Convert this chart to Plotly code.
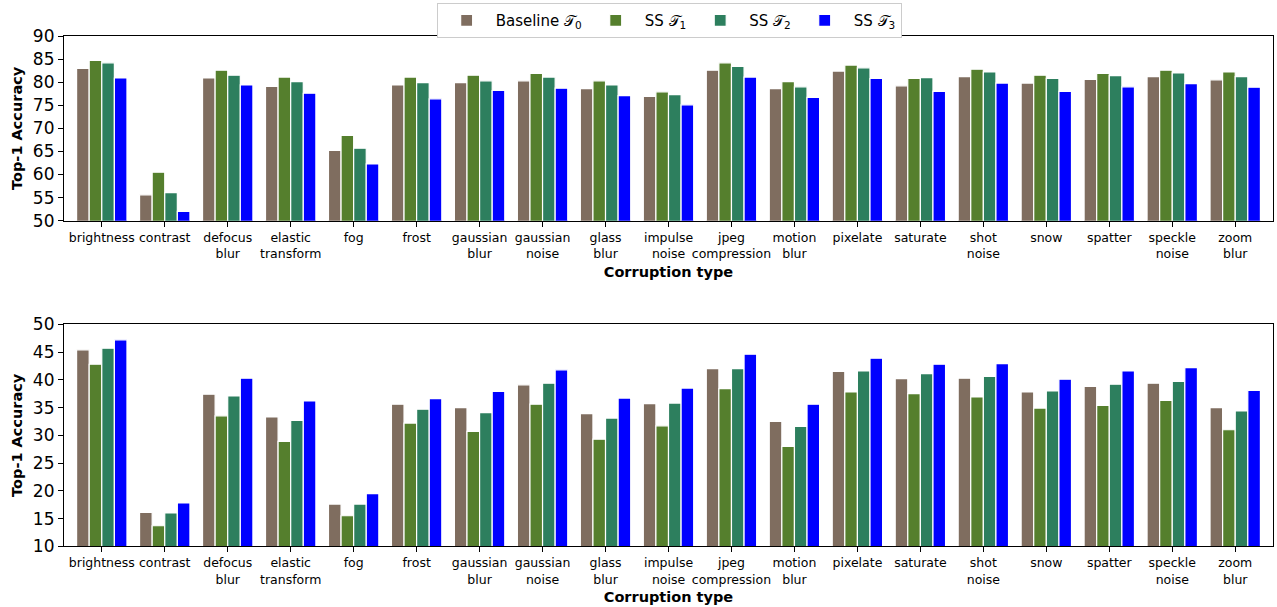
import plotly.graph_objects as go

categories = ["brightness", "contrast", "defocus<br>blur", "elastic<br>transform", "fog", "frost",
              "gaussian<br>blur", "gaussian<br>noise", "glass<br>blur", "impulse<br>noise",
              "jpeg<br>compression", "motion<br>blur", "pixelate", "saturate", "shot<br>noise",
              "snow", "spatter", "speckle<br>noise", "zoom<br>blur"]

series_names = ["Baseline 𝒯<sub>0</sub>", "SS 𝒯<sub>1</sub>", "SS 𝒯<sub>2</sub>", "SS 𝒯<sub>3</sub>"]

top_t0 = [83.0, 55.6, 80.9, 79.1, 65.2, 79.4, 79.9, 80.3, 78.6, 76.9, 82.6, 78.6, 82.4, 79.2, 81.2, 79.8, 80.6, 81.2, 80.5]
top_t1 = [84.7, 60.5, 82.6, 81.1, 68.5, 81.1, 81.5, 81.9, 80.3, 77.9, 84.2, 80.1, 83.7, 80.8, 82.8, 81.5, 81.9, 82.6, 82.2]
top_t2 = [84.2, 56.1, 81.5, 80.1, 65.7, 79.9, 80.3, 81.1, 79.4, 77.3, 83.4, 79.0, 83.1, 81.0, 82.2, 80.8, 81.4, 82.0, 81.2]
top_t3 = [80.9, 52.0, 79.4, 77.6, 62.3, 76.4, 78.2, 78.7, 77.1, 75.1, 81.1, 76.7, 80.8, 78.0, 79.8, 78.0, 79.0, 79.7, 78.9]

bot_t0 = [45.4, 16.1, 37.4, 33.3, 17.6, 35.6, 35.0, 39.1, 33.9, 35.7, 42.0, 32.5, 41.5, 40.2, 40.3, 37.8, 38.8, 39.4, 35.0]
bot_t1 = [42.8, 13.7, 33.5, 28.9, 15.5, 32.2, 30.7, 35.6, 29.3, 31.7, 38.4, 28.0, 37.8, 37.5, 36.9, 34.9, 35.4, 36.3, 31.0]
bot_t2 = [45.7, 16.0, 37.1, 32.7, 17.6, 34.7, 34.1, 39.4, 33.1, 35.8, 42.0, 31.6, 41.6, 41.1, 40.6, 38.0, 39.2, 39.7, 34.4]
bot_t3 = [47.2, 17.8, 40.3, 36.2, 19.5, 36.6, 37.9, 41.8, 36.7, 38.5, 44.6, 35.6, 43.9, 42.8, 42.9, 40.1, 41.6, 42.2, 38.1]

colors = ["#7f6d5f", "#557f2d", "#2d7f5e", "#0000ff"]

top_data = [top_t0, top_t1, top_t2, top_t3]
bot_data = [bot_t0, bot_t1, bot_t2, bot_t3]

fig = go.Figure()
for i in range(4):
    fig.add_trace(go.Bar(x=categories, y=top_data[i], name=series_names[i], marker_color=colors[i],
                         marker_line_color="white", marker_line_width=1.2,
                         xaxis="x", yaxis="y", offsetgroup=str(i), legendgroup=str(i)))
for i in range(4):
    fig.add_trace(go.Bar(x=categories, y=bot_data[i], name=series_names[i], marker_color=colors[i],
                         marker_line_color="white", marker_line_width=1.2,
                         xaxis="x2", yaxis="y2", offsetgroup=str(i), legendgroup=str(i), showlegend=False))

W, H = 1277, 607
xdom = [64 / W, 1273 / W]
ax_common = dict(showline=True, linecolor="black", linewidth=1.2, mirror=True, ticks="outside",
                 ticklen=5, tickcolor="black", showgrid=False, zeroline=False, automargin=False)
fontfam = "DejaVu Sans"

fig.update_layout(
    width=W, height=H,
    margin=dict(l=0, r=0, t=0, b=0, autoexpand=False),
    plot_bgcolor="white", paper_bgcolor="white",
    font=dict(family=fontfam, color="black"),
    barmode="group", bargap=0.2, bargroupgap=0.0,
    xaxis=dict(domain=xdom, anchor="y", range=[-0.6, 18.6], tickfont=dict(size=12.5), tickangle=0,
               title=dict(text="<b>Corruption type</b>", font=dict(size=14.5), standoff=6), **ax_common),
    yaxis=dict(domain=[(H - 220.7) / H, (H - 36) / H], anchor="x", range=[50, 90], dtick=5,
               tickfont=dict(size=17), title=dict(text="<b>Top-1 Accuracy</b>", font=dict(size=14.5), standoff=6),
               **ax_common),
    xaxis2=dict(domain=xdom, anchor="y2", range=[-0.6, 18.6], tickfont=dict(size=12.5), tickangle=0,
                title=dict(text="<b>Corruption type</b>", font=dict(size=14.5), standoff=6), **ax_common),
    yaxis2=dict(domain=[(H - 546.3) / H, (H - 324.3) / H], anchor="x2", range=[10, 50], dtick=5,
                tickfont=dict(size=17), title=dict(text="<b>Top-1 Accuracy</b>", font=dict(size=14.5), standoff=6),
                **ax_common),
    legend=dict(orientation="h", x=0.524, xanchor="center", y=0.995, yanchor="top",
                bordercolor="#cccccc", borderwidth=1, font=dict(size=15), bgcolor="white",
                itemwidth=48, traceorder="normal"),
)

fig.write_html("out.html", config={"displayModeBar": False},
               post_script="document.body.style.margin='0px';document.body.style.overflow='hidden';")
